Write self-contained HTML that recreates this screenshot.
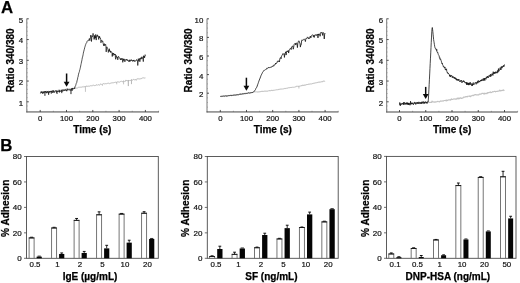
<!DOCTYPE html>
<html><head><meta charset="utf-8"><title>Figure</title>
<style>html,body{margin:0;padding:0;background:#fff;}body{width:520px;height:283px;overflow:hidden;}svg{display:block;font-family:"Liberation Sans", sans-serif;will-change:transform;}text{font-family:"Liberation Sans", sans-serif;}</style>
</head><body>
<svg width="520" height="283" viewBox="0 0 520 283">
<rect x="0" y="0" width="520" height="283" fill="#fff"/>
<text x="1" y="13.4" font-size="16.8" font-weight="bold" text-anchor="start" fill="#000" stroke="#000" stroke-width="0.25">A</text>
<text x="0.2" y="151.2" font-size="16.8" font-weight="bold" text-anchor="start" fill="#000" stroke="#000" stroke-width="0.25">B</text>
<line x1="26.8" y1="18.6" x2="26.8" y2="112.4" stroke="#6a6a6a" stroke-width="0.9"/>
<line x1="26.35" y1="111.95" x2="159" y2="111.95" stroke="#3c3c3c" stroke-width="0.95"/>
<line x1="26.8" y1="18.8" x2="28.8" y2="18.8" stroke="#2a2a2a" stroke-width="0.8"/>
<text x="23.2" y="22.7" font-size="7.9" text-anchor="end" fill="#111" stroke="#111" stroke-width="0.2">5</text>
<line x1="26.8" y1="39.55" x2="28.8" y2="39.55" stroke="#2a2a2a" stroke-width="0.8"/>
<text x="23.2" y="43.45" font-size="7.9" text-anchor="end" fill="#111" stroke="#111" stroke-width="0.2">4</text>
<line x1="26.8" y1="60.3" x2="28.8" y2="60.3" stroke="#2a2a2a" stroke-width="0.8"/>
<text x="23.2" y="64.2" font-size="7.9" text-anchor="end" fill="#111" stroke="#111" stroke-width="0.2">3</text>
<line x1="26.8" y1="81.05" x2="28.8" y2="81.05" stroke="#2a2a2a" stroke-width="0.8"/>
<text x="23.2" y="84.95" font-size="7.9" text-anchor="end" fill="#111" stroke="#111" stroke-width="0.2">2</text>
<line x1="26.8" y1="101.8" x2="28.8" y2="101.8" stroke="#2a2a2a" stroke-width="0.8"/>
<text x="23.2" y="105.7" font-size="7.9" text-anchor="end" fill="#111" stroke="#111" stroke-width="0.2">1</text>
<line x1="26.8" y1="22.95" x2="27.8" y2="22.95" stroke="#777" stroke-width="0.45"/>
<line x1="26.8" y1="27.1" x2="27.8" y2="27.1" stroke="#777" stroke-width="0.45"/>
<line x1="26.8" y1="31.25" x2="27.8" y2="31.25" stroke="#777" stroke-width="0.45"/>
<line x1="26.8" y1="35.4" x2="27.8" y2="35.4" stroke="#777" stroke-width="0.45"/>
<line x1="26.8" y1="43.7" x2="27.8" y2="43.7" stroke="#777" stroke-width="0.45"/>
<line x1="26.8" y1="47.85" x2="27.8" y2="47.85" stroke="#777" stroke-width="0.45"/>
<line x1="26.8" y1="52" x2="27.8" y2="52" stroke="#777" stroke-width="0.45"/>
<line x1="26.8" y1="56.15" x2="27.8" y2="56.15" stroke="#777" stroke-width="0.45"/>
<line x1="26.8" y1="64.45" x2="27.8" y2="64.45" stroke="#777" stroke-width="0.45"/>
<line x1="26.8" y1="68.6" x2="27.8" y2="68.6" stroke="#777" stroke-width="0.45"/>
<line x1="26.8" y1="72.75" x2="27.8" y2="72.75" stroke="#777" stroke-width="0.45"/>
<line x1="26.8" y1="76.9" x2="27.8" y2="76.9" stroke="#777" stroke-width="0.45"/>
<line x1="26.8" y1="85.2" x2="27.8" y2="85.2" stroke="#777" stroke-width="0.45"/>
<line x1="26.8" y1="89.35" x2="27.8" y2="89.35" stroke="#777" stroke-width="0.45"/>
<line x1="26.8" y1="93.5" x2="27.8" y2="93.5" stroke="#777" stroke-width="0.45"/>
<line x1="26.8" y1="97.65" x2="27.8" y2="97.65" stroke="#777" stroke-width="0.45"/>
<line x1="26.8" y1="105.95" x2="27.8" y2="105.95" stroke="#777" stroke-width="0.45"/>
<line x1="26.8" y1="110.1" x2="27.8" y2="110.1" stroke="#777" stroke-width="0.45"/>
<line x1="40.2" y1="111.95" x2="40.2" y2="109.95" stroke="#2a2a2a" stroke-width="0.8"/>
<text x="40.2" y="120.85" font-size="7.8" text-anchor="middle" fill="#111" stroke="#111" stroke-width="0.2">0</text>
<line x1="66.5" y1="111.95" x2="66.5" y2="109.95" stroke="#2a2a2a" stroke-width="0.8"/>
<text x="66.5" y="120.85" font-size="7.8" text-anchor="middle" fill="#111" stroke="#111" stroke-width="0.2">100</text>
<line x1="92.8" y1="111.95" x2="92.8" y2="109.95" stroke="#2a2a2a" stroke-width="0.8"/>
<text x="92.8" y="120.85" font-size="7.8" text-anchor="middle" fill="#111" stroke="#111" stroke-width="0.2">200</text>
<line x1="119.1" y1="111.95" x2="119.1" y2="109.95" stroke="#2a2a2a" stroke-width="0.8"/>
<text x="119.1" y="120.85" font-size="7.8" text-anchor="middle" fill="#111" stroke="#111" stroke-width="0.2">300</text>
<line x1="145.4" y1="111.95" x2="145.4" y2="109.95" stroke="#2a2a2a" stroke-width="0.8"/>
<text x="145.4" y="120.85" font-size="7.8" text-anchor="middle" fill="#111" stroke="#111" stroke-width="0.2">400</text>
<line x1="53.35" y1="111.95" x2="53.35" y2="110.75" stroke="#666" stroke-width="0.55"/>
<line x1="79.65" y1="111.95" x2="79.65" y2="110.75" stroke="#666" stroke-width="0.55"/>
<line x1="105.95" y1="111.95" x2="105.95" y2="110.75" stroke="#666" stroke-width="0.55"/>
<line x1="132.25" y1="111.95" x2="132.25" y2="110.75" stroke="#666" stroke-width="0.55"/>
<line x1="158.55" y1="111.95" x2="158.55" y2="110.75" stroke="#666" stroke-width="0.55"/>
<text x="13.9" y="60.4" font-size="10" font-weight="bold" text-anchor="middle" fill="#000" transform="rotate(-90 13.9 60.4)" stroke="#000" stroke-width="0.25">Ratio 340/380</text>
<text x="92.3" y="132.9" font-size="10" font-weight="bold" text-anchor="middle" fill="#000" stroke="#000" stroke-width="0.25">Time (s)</text>
<path d="M40.2 92.77 L40.73 92.31 L41.25 92.09 L41.78 92.4 L42.3 92.55 L42.83 92.17 L43.36 91.97 L43.88 91.76 L44.41 92.27 L44.93 92.23 L45.46 91.67 L45.99 91.67 L46.51 91.35 L47.04 91.42 L47.56 91.63 L48.09 91.62 L48.62 90.85 L49.14 91.5 L49.67 91.56 L50.19 91.59 L50.72 91.22 L51.25 91.15 L51.77 91.21 L52.3 91.08 L52.82 90.94 L53.35 90.77 L53.88 90.61 L54.4 90.77 L54.93 91.21 L55.45 90.53 L55.98 90.99 L56.51 90.62 L57.03 90.88 L57.56 90.45 L58.08 90.59 L58.61 90.28 L59.14 89.44 L59.66 90.22 L60.19 89.93 L60.71 90.41 L61.24 90.08 L61.77 89.78 L62.29 89.91 L62.82 89.73 L63.34 89.73 L63.87 89.94 L64.4 89.48 L64.92 89.76 L65.45 89.02 L65.97 89.54 L66.5 89.18 L67.03 89.28 L67.55 88.97 L68.08 89.29 L68.6 88.82 L69.13 89.03 L69.66 88.62 L70.18 88.7 L70.71 88.75 L71.23 88.91 L71.76 88.45 L72.29 88.45 L72.81 88.09 L73.34 88.52 L73.86 88.21 L74.39 88.15 L74.92 88.13 L75.44 88.07 L75.97 88.01 L76.49 88.13 L77.02 88.15 L77.55 87.92 L78.07 87.6 L78.6 87.3 L79.12 87.35 L79.65 87.26 L80.18 87.25 L80.7 87.19 L81.23 87.25 L81.75 87.02 L82.28 86.7 L82.81 87.14 L83.33 87.16 L83.86 86.42 L84.38 86.77 L84.91 86.51 L85.44 86.46 L85.96 86.88 L86.49 85.92 L87.01 86.01 L87.54 86.33 L88.07 86.11 L88.59 86.19 L89.12 86.36 L89.64 86.1 L90.17 85.9 L90.7 85.64 L91.22 85.66 L91.75 85.75 L92.27 85.35 L92.8 85.8 L93.33 85.34 L93.85 85.19 L94.38 85.46 L94.9 85.76 L95.43 85.47 L95.96 85.11 L96.48 84.96 L97.01 84.64 L97.53 85.2 L98.06 84.87 L98.59 84.64 L99.11 84.77 L99.64 85.24 L100.16 84.38 L100.69 83.93 L101.22 84.18 L101.74 84.59 L102.27 84.39 L102.79 84.16 L103.32 83.52 L103.85 83.91 L104.37 83.96 L104.9 83.53 L105.42 83.86 L105.95 83.31 L106.48 83.87 L107 83.74 L107.53 83.37 L108.05 83.12 L108.58 83.24 L109.11 83.25 L109.63 83.7 L110.16 83.35 L110.68 83.25 L111.21 83.16 L111.74 82.81 L112.26 82.96 L112.79 82.6 L113.31 82.7 L113.84 82.73 L114.37 82.54 L114.89 82.39 L115.42 82.21 L115.94 82.46 L116.47 82.33 L117 82.53 L117.52 81.71 L118.05 81.67 L118.57 82 L119.1 82 L119.63 82.11 L120.15 81.68 L120.68 81.59 L121.2 81.02 L121.73 81.42 L122.26 81.6 L122.78 81.93 L123.31 80.89 L123.83 81.12 L124.36 81.49 L124.89 80.96 L125.41 81.32 L125.94 79.98 L126.46 80.48 L126.99 80.54 L127.52 80.64 L128.04 81.05 L128.57 80.47 L129.09 80.74 L129.62 80.12 L130.15 80.72 L130.67 80.33 L131.2 79.72 L131.72 79.53 L132.25 80.15 L132.78 80.16 L133.3 79.47 L133.83 79.4 L134.35 79.77 L134.88 79.62 L135.41 79.53 L135.93 79.57 L136.46 79.36 L136.98 78.8 L137.51 78.86 L138.04 78.43 L138.56 78.89 L139.09 78.81 L139.61 78.94 L140.14 78.65 L140.67 78.86 L141.19 78.89 L141.72 78.19 L142.24 77.93 L142.77 77.99 L143.3 77.79 L143.82 77.98 L144.35 78.13 L144.87 77.85 L145.4 77.89" fill="none" stroke="#b9b9b9" stroke-width="1" stroke-linejoin="round"/>
<line x1="85.44" y1="86.68" x2="85.44" y2="91.87" stroke="#aaa" stroke-width="0.7"/>
<line x1="102.53" y1="84.25" x2="102.53" y2="85.91" stroke="#bbb" stroke-width="0.7"/>
<line x1="116.73" y1="82.23" x2="116.73" y2="84.3" stroke="#aaa" stroke-width="0.7"/>
<line x1="123.57" y1="81.21" x2="123.57" y2="84.32" stroke="#aaa" stroke-width="0.7"/>
<line x1="128.31" y1="80.48" x2="128.31" y2="86.08" stroke="#888" stroke-width="0.7"/>
<line x1="131.46" y1="79.98" x2="131.46" y2="84.13" stroke="#999" stroke-width="0.7"/>
<line x1="136.19" y1="79.24" x2="136.19" y2="80.9" stroke="#bbb" stroke-width="0.7"/>
<path d="M40.2 93.2 L40.46 93.37 L40.73 92.76 L40.99 91.55 L41.25 91.66 L41.52 92.91 L41.78 92.81 L42.04 91.54 L42.3 91.86 L42.57 93.61 L42.83 92.77 L43.09 92.55 L43.36 91.62 L43.62 93.27 L43.88 92.28 L44.15 91.82 L44.41 92.03 L44.67 91.53 L44.93 92.61 L45.2 91.02 L45.46 91.95 L45.72 92 L45.99 92.26 L46.25 92.81 L46.51 91.68 L46.78 93.23 L47.04 92.37 L47.3 91.11 L47.56 91.67 L47.83 92.54 L48.09 92.82 L48.35 91.65 L48.62 94.71 L48.88 91.66 L49.14 91.89 L49.41 91.22 L49.67 92.55 L49.93 92.43 L50.19 91.5 L50.46 91.85 L50.72 91.21 L50.98 91.16 L51.25 92.21 L51.51 91.05 L51.77 90.94 L52.04 91.81 L52.3 91.75 L52.56 92.66 L52.82 91.2 L53.09 90.18 L53.35 92.53 L53.61 91.69 L53.88 91.06 L54.14 91.84 L54.4 92.38 L54.67 92.54 L54.93 91.53 L55.19 91.03 L55.45 90.77 L55.72 90.8 L55.98 90.61 L56.24 91.75 L56.51 92.56 L56.77 90.76 L57.03 90.89 L57.3 91.21 L57.56 91.95 L57.82 91.54 L58.08 91.21 L58.35 90.64 L58.61 91.21 L58.87 91.74 L59.14 91.03 L59.4 92.4 L59.66 90.12 L59.93 90.97 L60.19 91.47 L60.45 91.05 L60.71 91.37 L60.98 90.88 L61.24 90.78 L61.5 89.97 L61.77 90.1 L62.03 91.84 L62.29 90.27 L62.56 89.75 L62.82 90.5 L63.08 90.63 L63.34 90.68 L63.61 90.95 L63.87 89.61 L64.13 89.76 L64.4 90.35 L64.66 89.91 L64.92 90.75 L65.19 89.81 L65.45 89.98 L65.71 89.36 L65.97 89.66 L66.24 90.83 L66.5 90.18 L66.76 91.21 L67.03 90.61 L67.29 88.73 L67.55 89.73 L67.81 90.17 L68.08 89.94 L68.34 89.61 L68.6 89.78 L68.87 90.14 L69.13 89.38 L69.39 89.71 L69.66 89.43 L69.92 89.75 L70.18 90.61 L70.45 89.64 L70.71 89.46 L70.97 89.45 L71.23 89.84 L71.5 89.63 L71.76 88.42 L72.02 90.9 L72.29 88.04 L72.55 88.75 L72.81 89.42 L73.08 88.59 L73.34 88.99 L73.6 88.82 L73.86 88.39 L74.13 87.92 L74.39 87.83 L74.65 88.77 L74.92 87.16 L75.18 86.05 L75.44 85.83 L75.71 85.46 L75.97 84.37 L76.23 83.46 L76.49 83.11 L76.76 82.4 L77.02 80.86 L77.28 79.91 L77.55 79.05 L77.81 77.38 L78.07 76.95 L78.34 75.03 L78.6 74.17 L78.86 72.81 L79.12 72.48 L79.39 71.64 L79.65 70.19 L79.91 69.48 L80.18 68.35 L80.44 67.22 L80.7 65.98 L80.97 64.48 L81.23 63.44 L81.49 61.98 L81.75 60.98 L82.02 59.53 L82.28 57.91 L82.54 57.03 L82.81 56.1 L83.07 54.79 L83.33 53.22 L83.59 51.94 L83.86 51.05 L84.12 49.9 L84.38 49.08 L84.65 47.79 L84.91 46.95 L85.17 46.16 L85.44 45.16 L85.7 44.46 L85.96 43.7 L86.22 43.08 L86.49 42.95 L86.75 42.61 L87.01 41.29 L87.28 41.18 L87.54 40.82 L87.8 40.83 L88.07 40.5 L88.33 40.71 L88.59 39.95 L88.86 39.57 L89.12 38.97 L89.38 38.47 L89.64 40.33 L89.91 40.77 L90.17 39.3 L90.43 37.89 L90.7 35.15 L90.96 36.93 L91.22 36.9 L91.48 41.51 L91.75 38.16 L92.01 35.53 L92.27 36.83 L92.54 36.37 L92.8 35.64 L93.06 33.36 L93.33 35.24 L93.59 35.4 L93.85 35.7 L94.12 39.47 L94.38 35.42 L94.64 38.4 L94.9 36.57 L95.17 36.11 L95.43 38.17 L95.69 34.45 L95.96 36.38 L96.22 40.09 L96.48 36.22 L96.75 36.16 L97.01 35.99 L97.27 34.81 L97.53 36.41 L97.8 35.6 L98.06 35.83 L98.32 36.8 L98.59 39.31 L98.85 39.5 L99.11 36.08 L99.38 37.82 L99.64 36.65 L99.9 37.66 L100.16 37.89 L100.43 37.94 L100.69 39.56 L100.95 42.79 L101.22 41.6 L101.48 40.4 L101.74 39.96 L102 40.46 L102.27 41.53 L102.53 41.99 L102.79 41.35 L103.06 43.34 L103.32 43.64 L103.58 45.76 L103.85 44.01 L104.11 43.59 L104.37 43.76 L104.64 45.84 L104.9 45.3 L105.16 44.16 L105.42 44.94 L105.69 44.66 L105.95 46.76 L106.21 51.9 L106.48 48.21 L106.74 46.9 L107 46.78 L107.27 47.48 L107.53 48.49 L107.79 48.5 L108.05 49.94 L108.32 52.44 L108.58 51.23 L108.84 49.95 L109.11 50.69 L109.37 48.72 L109.63 51.21 L109.89 50.76 L110.16 51.83 L110.42 50.95 L110.68 52.59 L110.95 51.89 L111.21 51.49 L111.47 51.89 L111.74 52.39 L112 53.21 L112.26 56.52 L112.53 52.88 L112.79 53.56 L113.05 55.55 L113.31 54.2 L113.58 53.07 L113.84 54.01 L114.1 53.98 L114.37 54.88 L114.63 54.15 L114.89 55.09 L115.16 54.03 L115.42 57.56 L115.68 59.3 L115.94 55.31 L116.21 55.52 L116.47 56.75 L116.73 56.39 L117 58.2 L117.26 57.11 L117.52 57.35 L117.78 59.86 L118.05 57.94 L118.31 57.28 L118.57 56.31 L118.84 57.1 L119.1 57.67 L119.36 57.78 L119.63 57.95 L119.89 57.95 L120.15 58.89 L120.42 59.88 L120.68 58.59 L120.94 59.4 L121.2 59.16 L121.47 59.74 L121.73 58.26 L121.99 58.76 L122.26 58.39 L122.52 59.3 L122.78 62.35 L123.05 59.13 L123.31 59.84 L123.57 58.79 L123.83 60.78 L124.1 59.2 L124.36 59.08 L124.62 59.6 L124.89 61.83 L125.15 60.47 L125.41 60.25 L125.67 59.96 L125.94 59.39 L126.2 60.19 L126.46 59.51 L126.73 59.73 L126.99 59.22 L127.25 60.82 L127.52 60.41 L127.78 59.88 L128.04 59.99 L128.31 60.25 L128.57 60.82 L128.83 61.65 L129.09 60.67 L129.36 61.52 L129.62 59.8 L129.88 60.56 L130.15 60.22 L130.41 61.3 L130.67 60.44 L130.94 60.34 L131.2 59.5 L131.46 60.53 L131.72 59.99 L131.99 60.42 L132.25 60.09 L132.51 60.51 L132.78 61.45 L133.04 61.49 L133.3 60.02 L133.56 60.93 L133.83 60.05 L134.09 59.93 L134.35 60.78 L134.62 61.53 L134.88 60.8 L135.14 60.79 L135.41 61.24 L135.67 60.87 L135.93 60.85 L136.19 60 L136.46 59.66 L136.72 59.51 L136.98 60.68 L137.25 60.39 L137.51 61.06 L137.77 65.47 L138.04 61.41 L138.3 58.75 L138.56 59.54 L138.82 61.33 L139.09 59.34 L139.35 58.41 L139.61 60.14 L139.88 61.69 L140.14 60.21 L140.4 58.06 L140.67 58.39 L140.93 59.2 L141.19 57.3 L141.45 58.62 L141.72 58.58 L141.98 56.72 L142.24 57.21 L142.51 58.4 L142.77 58.02 L143.03 58.58 L143.3 61.62 L143.56 55.72 L143.82 56.92 L144.09 57.96 L144.35 56.08 L144.61 57.59 L144.87 56.56 L145.14 54.7 L145.4 55.59" fill="none" stroke="#111" stroke-width="0.72" stroke-linejoin="round"/>
<line x1="44.93" y1="92.13" x2="44.93" y2="95.87" stroke="#181818" stroke-width="0.95"/>
<line x1="51.25" y1="91.64" x2="51.25" y2="93.71" stroke="#181818" stroke-width="0.95"/>
<line x1="57.03" y1="91.12" x2="57.03" y2="94.02" stroke="#181818" stroke-width="0.95"/>
<line x1="61.77" y1="90.64" x2="61.77" y2="93.13" stroke="#181818" stroke-width="0.95"/>
<line x1="70.97" y1="89.56" x2="70.97" y2="94.12" stroke="#181818" stroke-width="0.95"/>
<line x1="66.6" y1="73.5" x2="66.6" y2="83.8" stroke="#0a0a0a" stroke-width="1.5"/>
<path d="M63.7 81.8 L69.5 81.8 L66.6 86.8 Z" fill="#0a0a0a"/>
<line x1="207" y1="18.6" x2="207" y2="112.4" stroke="#6a6a6a" stroke-width="0.9"/>
<line x1="206.55" y1="111.95" x2="338.5" y2="111.95" stroke="#3c3c3c" stroke-width="0.95"/>
<line x1="207" y1="18.8" x2="209" y2="18.8" stroke="#2a2a2a" stroke-width="0.8"/>
<text x="203.4" y="22.7" font-size="7.9" text-anchor="end" fill="#111" stroke="#111" stroke-width="0.2">10</text>
<line x1="207" y1="37.4" x2="209" y2="37.4" stroke="#2a2a2a" stroke-width="0.8"/>
<text x="203.4" y="41.3" font-size="7.9" text-anchor="end" fill="#111" stroke="#111" stroke-width="0.2">8</text>
<line x1="207" y1="56" x2="209" y2="56" stroke="#2a2a2a" stroke-width="0.8"/>
<text x="203.4" y="59.9" font-size="7.9" text-anchor="end" fill="#111" stroke="#111" stroke-width="0.2">6</text>
<line x1="207" y1="74.6" x2="209" y2="74.6" stroke="#2a2a2a" stroke-width="0.8"/>
<text x="203.4" y="78.5" font-size="7.9" text-anchor="end" fill="#111" stroke="#111" stroke-width="0.2">4</text>
<line x1="207" y1="93.2" x2="209" y2="93.2" stroke="#2a2a2a" stroke-width="0.8"/>
<text x="203.4" y="97.1" font-size="7.9" text-anchor="end" fill="#111" stroke="#111" stroke-width="0.2">2</text>
<line x1="207" y1="23.45" x2="208" y2="23.45" stroke="#777" stroke-width="0.45"/>
<line x1="207" y1="28.1" x2="208" y2="28.1" stroke="#777" stroke-width="0.45"/>
<line x1="207" y1="32.75" x2="208" y2="32.75" stroke="#777" stroke-width="0.45"/>
<line x1="207" y1="42.05" x2="208" y2="42.05" stroke="#777" stroke-width="0.45"/>
<line x1="207" y1="46.7" x2="208" y2="46.7" stroke="#777" stroke-width="0.45"/>
<line x1="207" y1="51.35" x2="208" y2="51.35" stroke="#777" stroke-width="0.45"/>
<line x1="207" y1="60.65" x2="208" y2="60.65" stroke="#777" stroke-width="0.45"/>
<line x1="207" y1="65.3" x2="208" y2="65.3" stroke="#777" stroke-width="0.45"/>
<line x1="207" y1="69.95" x2="208" y2="69.95" stroke="#777" stroke-width="0.45"/>
<line x1="207" y1="79.25" x2="208" y2="79.25" stroke="#777" stroke-width="0.45"/>
<line x1="207" y1="83.9" x2="208" y2="83.9" stroke="#777" stroke-width="0.45"/>
<line x1="207" y1="88.55" x2="208" y2="88.55" stroke="#777" stroke-width="0.45"/>
<line x1="207" y1="97.85" x2="208" y2="97.85" stroke="#777" stroke-width="0.45"/>
<line x1="207" y1="102.5" x2="208" y2="102.5" stroke="#777" stroke-width="0.45"/>
<line x1="207" y1="107.15" x2="208" y2="107.15" stroke="#777" stroke-width="0.45"/>
<line x1="220.3" y1="111.95" x2="220.3" y2="109.95" stroke="#2a2a2a" stroke-width="0.8"/>
<text x="220.3" y="120.85" font-size="7.8" text-anchor="middle" fill="#111" stroke="#111" stroke-width="0.2">0</text>
<line x1="246.5" y1="111.95" x2="246.5" y2="109.95" stroke="#2a2a2a" stroke-width="0.8"/>
<text x="246.5" y="120.85" font-size="7.8" text-anchor="middle" fill="#111" stroke="#111" stroke-width="0.2">100</text>
<line x1="272.7" y1="111.95" x2="272.7" y2="109.95" stroke="#2a2a2a" stroke-width="0.8"/>
<text x="272.7" y="120.85" font-size="7.8" text-anchor="middle" fill="#111" stroke="#111" stroke-width="0.2">200</text>
<line x1="298.9" y1="111.95" x2="298.9" y2="109.95" stroke="#2a2a2a" stroke-width="0.8"/>
<text x="298.9" y="120.85" font-size="7.8" text-anchor="middle" fill="#111" stroke="#111" stroke-width="0.2">300</text>
<line x1="325.1" y1="111.95" x2="325.1" y2="109.95" stroke="#2a2a2a" stroke-width="0.8"/>
<text x="325.1" y="120.85" font-size="7.8" text-anchor="middle" fill="#111" stroke="#111" stroke-width="0.2">400</text>
<line x1="233.4" y1="111.95" x2="233.4" y2="110.75" stroke="#666" stroke-width="0.55"/>
<line x1="259.6" y1="111.95" x2="259.6" y2="110.75" stroke="#666" stroke-width="0.55"/>
<line x1="285.8" y1="111.95" x2="285.8" y2="110.75" stroke="#666" stroke-width="0.55"/>
<line x1="312" y1="111.95" x2="312" y2="110.75" stroke="#666" stroke-width="0.55"/>
<line x1="338.2" y1="111.95" x2="338.2" y2="110.75" stroke="#666" stroke-width="0.55"/>
<text x="191.7" y="60.4" font-size="10" font-weight="bold" text-anchor="middle" fill="#000" transform="rotate(-90 191.7 60.4)" stroke="#000" stroke-width="0.25">Ratio 340/380</text>
<text x="272.8" y="132.9" font-size="10" font-weight="bold" text-anchor="middle" fill="#000" stroke="#000" stroke-width="0.25">Time (s)</text>
<path d="M220.3 96.15 L220.82 96.55 L221.35 96.29 L221.87 96.31 L222.4 96.33 L222.92 96.23 L223.44 96.16 L223.97 96.05 L224.49 95.92 L225.02 95.77 L225.54 95.82 L226.06 95.64 L226.59 95.68 L227.11 95.67 L227.64 95.65 L228.16 95.7 L228.68 95.72 L229.21 95.46 L229.73 95.41 L230.26 95.28 L230.78 95.22 L231.3 95.39 L231.83 95.25 L232.35 95.25 L232.88 94.89 L233.4 94.99 L233.92 94.9 L234.45 94.98 L234.97 94.97 L235.5 94.82 L236.02 94.69 L236.54 94.55 L237.07 94.76 L237.59 94.45 L238.12 94.55 L238.64 94.44 L239.16 94.35 L239.69 94.3 L240.21 94.12 L240.74 94 L241.26 94.01 L241.78 94.07 L242.31 93.87 L242.83 93.81 L243.36 93.68 L243.88 93.7 L244.4 93.89 L244.93 93.7 L245.45 93.59 L245.98 93.34 L246.5 93.41 L247.02 93.19 L247.55 93.18 L248.07 93.28 L248.6 93 L249.12 92.81 L249.64 92.71 L250.17 92.85 L250.69 92.48 L251.22 92.52 L251.74 92.64 L252.26 92.36 L252.79 92.49 L253.31 92.34 L253.84 91.91 L254.36 91.72 L254.88 91.86 L255.41 91.9 L255.93 91.65 L256.46 91.82 L256.98 91.96 L257.5 92.12 L258.03 91.62 L258.55 92.01 L259.08 92.05 L259.6 91.71 L260.12 91.57 L260.65 91.66 L261.17 91.36 L261.7 91.48 L262.22 91.39 L262.74 91.32 L263.27 91.42 L263.79 91.27 L264.32 90.94 L264.84 91.34 L265.36 91.14 L265.89 91.05 L266.41 91.15 L266.94 91.03 L267.46 91.2 L267.98 90.97 L268.51 90.85 L269.03 90.64 L269.56 90.6 L270.08 90.74 L270.6 90.75 L271.13 90.28 L271.65 90.34 L272.18 90.66 L272.7 90.37 L273.22 90.38 L273.75 90.27 L274.27 90.35 L274.8 90.1 L275.32 90.04 L275.84 89.93 L276.37 89.68 L276.89 89.72 L277.42 89.84 L277.94 89.84 L278.46 89.6 L278.99 89.29 L279.51 89.24 L280.04 89.37 L280.56 89.05 L281.08 89.07 L281.61 89.14 L282.13 88.92 L282.66 88.91 L283.18 88.97 L283.7 88.8 L284.23 88.63 L284.75 88.39 L285.28 88.63 L285.8 88.37 L286.32 88.32 L286.85 88.25 L287.37 88.32 L287.9 87.89 L288.42 87.8 L288.94 87.67 L289.47 87.75 L289.99 87.52 L290.52 87.56 L291.04 87.41 L291.56 87.51 L292.09 87.34 L292.61 87.33 L293.14 87.34 L293.66 87.17 L294.18 87.17 L294.71 87.08 L295.23 86.89 L295.76 86.83 L296.28 86.36 L296.8 86.31 L297.33 86.31 L297.85 86.26 L298.38 86.4 L298.9 86.14 L299.42 86.29 L299.95 86.08 L300.47 85.96 L301 85.85 L301.52 85.58 L302.04 85.71 L302.57 85.16 L303.09 85.48 L303.62 85.18 L304.14 85.43 L304.66 84.98 L305.19 85.18 L305.71 84.88 L306.24 84.8 L306.76 84.59 L307.28 84.51 L307.81 84.44 L308.33 84.42 L308.86 84.02 L309.38 84.26 L309.9 84.09 L310.43 84.05 L310.95 83.86 L311.48 83.92 L312 83.74 L312.52 83.5 L313.05 83.55 L313.57 83.3 L314.1 83.35 L314.62 82.96 L315.14 83.08 L315.67 82.71 L316.19 82.78 L316.72 82.77 L317.24 82.51 L317.76 82.38 L318.29 82.22 L318.81 82.14 L319.34 82.11 L319.86 82.29 L320.38 81.9 L320.91 81.94 L321.43 81.76 L321.96 81.54 L322.48 81.72 L323 81.33 L323.53 81.08 L324.05 81.24 L324.58 81.26 L325.1 80.92" fill="none" stroke="#c8c8c8" stroke-width="1.05" stroke-linejoin="round"/>
<line x1="298.9" y1="86.18" x2="298.9" y2="88.5" stroke="#aaa" stroke-width="0.7"/>
<path d="M220.3 96.43 L220.72 96.43 L221.14 96.53 L221.56 96.31 L221.98 96.56 L222.4 96.3 L222.82 96.17 L223.23 96.16 L223.65 96.02 L224.07 96.4 L224.49 96.15 L224.91 96.19 L225.33 96.21 L225.75 95.69 L226.17 96.21 L226.59 96.09 L227.01 95.71 L227.43 96.02 L227.85 95.67 L228.26 95.73 L228.68 95.59 L229.1 95.92 L229.52 95.54 L229.94 95.61 L230.36 95.45 L230.78 95.41 L231.2 95.26 L231.62 95.63 L232.04 95.44 L232.46 95.01 L232.88 95.5 L233.3 95.01 L233.71 95.11 L234.13 95.12 L234.55 95.09 L234.97 95.07 L235.39 95.22 L235.81 94.85 L236.23 94.73 L236.65 95.01 L237.07 94.79 L237.49 94.8 L237.91 94.65 L238.33 94.77 L238.74 94.7 L239.16 94.44 L239.58 94.3 L240 94.39 L240.42 94.14 L240.84 94.34 L241.26 93.83 L241.68 94.38 L242.1 94.17 L242.52 93.79 L242.94 93.99 L243.36 93.79 L243.78 93.81 L244.19 93.51 L244.61 93.55 L245.03 93.72 L245.45 93.67 L245.87 93.28 L246.29 93.43 L246.71 93.38 L247.13 93.52 L247.55 93.19 L247.97 93.09 L248.39 92.88 L248.81 92.76 L249.22 92.98 L249.64 93.11 L250.06 92.91 L250.48 92.84 L250.9 92.85 L251.32 92.71 L251.74 92.5 L252.16 92.48 L252.58 92.5 L253 92.29 L253.42 91.87 L253.84 91.71 L254.26 91.09 L254.67 90.84 L255.09 90.08 L255.51 89.54 L255.93 88.37 L256.35 87.87 L256.77 87.13 L257.19 86.09 L257.61 84.76 L258.03 83.7 L258.45 82.44 L258.87 81.18 L259.29 80.12 L259.7 79.02 L260.12 78.05 L260.54 76.88 L260.96 75.7 L261.38 74.84 L261.8 73.96 L262.22 73.16 L262.64 72.3 L263.06 71.81 L263.48 71.15 L263.9 70.43 L264.32 70.36 L264.74 69.93 L265.15 69.67 L265.57 69.71 L265.99 69.26 L266.41 69.19 L266.83 68.23 L267.25 68.52 L267.67 68 L268.09 67.9 L268.51 67.27 L268.93 68.09 L269.35 67.59 L269.77 67.4 L270.18 67 L270.6 67.47 L271.02 66.81 L271.44 67.07 L271.86 67 L272.28 66.31 L272.7 66.43 L273.12 65.74 L273.54 66.26 L273.96 64.76 L274.38 64.98 L274.8 65.09 L275.22 64.34 L275.63 63.01 L276.05 63.79 L276.47 63.23 L276.89 63.03 L277.31 61.61 L277.73 60.87 L278.15 61.65 L278.57 60.91 L278.99 60.91 L279.41 61.96 L279.83 59.01 L280.25 57.71 L280.66 57.6 L281.08 58.74 L281.5 56.1 L281.92 55.49 L282.34 54.92 L282.76 53.66 L283.18 53.89 L283.6 54.17 L284.02 53.62 L284.44 57.42 L284.86 53.55 L285.28 53.18 L285.7 51.81 L286.11 55.05 L286.53 51.4 L286.95 50.92 L287.37 51.31 L287.79 51.98 L288.21 50.44 L288.63 53.05 L289.05 50.84 L289.47 49.49 L289.89 48.97 L290.31 48.34 L290.73 48.32 L291.14 49.63 L291.56 47.12 L291.98 46.76 L292.4 45.98 L292.82 45.98 L293.24 49.19 L293.66 47.25 L294.08 44.52 L294.5 43.85 L294.92 43.93 L295.34 43.28 L295.76 45.04 L296.18 42.92 L296.59 43.01 L297.01 43.77 L297.43 47.62 L297.85 43.07 L298.27 41.72 L298.69 40.86 L299.11 40.97 L299.53 42.81 L299.95 42.84 L300.37 47.1 L300.79 44.76 L301.21 44.8 L301.62 40.54 L302.04 39.83 L302.46 40.29 L302.88 40.44 L303.3 39.63 L303.72 39.19 L304.14 39.14 L304.56 39.22 L304.98 39.94 L305.4 41.55 L305.82 39.04 L306.24 38.08 L306.66 38.5 L307.07 37.95 L307.49 36.9 L307.91 37.37 L308.33 38.77 L308.75 37.92 L309.17 37.92 L309.59 38.53 L310.01 36.76 L310.43 36.01 L310.85 37.89 L311.27 36.29 L311.69 35.48 L312.1 35.14 L312.52 34.7 L312.94 35.24 L313.36 36.73 L313.78 35.3 L314.2 37.46 L314.62 35.22 L315.04 35.63 L315.46 35.26 L315.88 34.51 L316.3 35.56 L316.72 34.78 L317.14 34.51 L317.55 34.08 L317.97 37.91 L318.39 34.06 L318.81 35.04 L319.23 33.74 L319.65 34.57 L320.07 36.27 L320.49 34.64 L320.91 32.18 L321.33 32.65 L321.75 32.54 L322.17 32.48 L322.58 35.41 L323 32.58 L323.42 32.68 L323.84 33.39 L324.26 38.94 L324.68 34.09 L325.1 33.06" fill="none" stroke="#111" stroke-width="0.8" stroke-linejoin="round"/>
<line x1="246.4" y1="77.7" x2="246.4" y2="87.8" stroke="#0a0a0a" stroke-width="1.5"/>
<path d="M243.5 85.8 L249.3 85.8 L246.4 90.8 Z" fill="#0a0a0a"/>
<line x1="386.7" y1="18.6" x2="386.7" y2="112.45" stroke="#6a6a6a" stroke-width="0.9"/>
<line x1="386.25" y1="112" x2="517.7" y2="112" stroke="#3c3c3c" stroke-width="0.95"/>
<line x1="386.7" y1="18.8" x2="388.7" y2="18.8" stroke="#2a2a2a" stroke-width="0.8"/>
<text x="383.1" y="22.7" font-size="7.9" text-anchor="end" fill="#111" stroke="#111" stroke-width="0.2">6</text>
<line x1="386.7" y1="39.55" x2="388.7" y2="39.55" stroke="#2a2a2a" stroke-width="0.8"/>
<text x="383.1" y="43.45" font-size="7.9" text-anchor="end" fill="#111" stroke="#111" stroke-width="0.2">5</text>
<line x1="386.7" y1="60.3" x2="388.7" y2="60.3" stroke="#2a2a2a" stroke-width="0.8"/>
<text x="383.1" y="64.2" font-size="7.9" text-anchor="end" fill="#111" stroke="#111" stroke-width="0.2">4</text>
<line x1="386.7" y1="81.05" x2="388.7" y2="81.05" stroke="#2a2a2a" stroke-width="0.8"/>
<text x="383.1" y="84.95" font-size="7.9" text-anchor="end" fill="#111" stroke="#111" stroke-width="0.2">3</text>
<line x1="386.7" y1="101.8" x2="388.7" y2="101.8" stroke="#2a2a2a" stroke-width="0.8"/>
<text x="383.1" y="105.7" font-size="7.9" text-anchor="end" fill="#111" stroke="#111" stroke-width="0.2">2</text>
<line x1="386.7" y1="22.95" x2="387.7" y2="22.95" stroke="#777" stroke-width="0.45"/>
<line x1="386.7" y1="27.1" x2="387.7" y2="27.1" stroke="#777" stroke-width="0.45"/>
<line x1="386.7" y1="31.25" x2="387.7" y2="31.25" stroke="#777" stroke-width="0.45"/>
<line x1="386.7" y1="35.4" x2="387.7" y2="35.4" stroke="#777" stroke-width="0.45"/>
<line x1="386.7" y1="43.7" x2="387.7" y2="43.7" stroke="#777" stroke-width="0.45"/>
<line x1="386.7" y1="47.85" x2="387.7" y2="47.85" stroke="#777" stroke-width="0.45"/>
<line x1="386.7" y1="52" x2="387.7" y2="52" stroke="#777" stroke-width="0.45"/>
<line x1="386.7" y1="56.15" x2="387.7" y2="56.15" stroke="#777" stroke-width="0.45"/>
<line x1="386.7" y1="64.45" x2="387.7" y2="64.45" stroke="#777" stroke-width="0.45"/>
<line x1="386.7" y1="68.6" x2="387.7" y2="68.6" stroke="#777" stroke-width="0.45"/>
<line x1="386.7" y1="72.75" x2="387.7" y2="72.75" stroke="#777" stroke-width="0.45"/>
<line x1="386.7" y1="76.9" x2="387.7" y2="76.9" stroke="#777" stroke-width="0.45"/>
<line x1="386.7" y1="85.2" x2="387.7" y2="85.2" stroke="#777" stroke-width="0.45"/>
<line x1="386.7" y1="89.35" x2="387.7" y2="89.35" stroke="#777" stroke-width="0.45"/>
<line x1="386.7" y1="93.5" x2="387.7" y2="93.5" stroke="#777" stroke-width="0.45"/>
<line x1="386.7" y1="97.65" x2="387.7" y2="97.65" stroke="#777" stroke-width="0.45"/>
<line x1="386.7" y1="105.95" x2="387.7" y2="105.95" stroke="#777" stroke-width="0.45"/>
<line x1="386.7" y1="110.1" x2="387.7" y2="110.1" stroke="#777" stroke-width="0.45"/>
<line x1="399.5" y1="112" x2="399.5" y2="110" stroke="#2a2a2a" stroke-width="0.8"/>
<text x="399.5" y="120.9" font-size="7.8" text-anchor="middle" fill="#111" stroke="#111" stroke-width="0.2">0</text>
<line x1="425.75" y1="112" x2="425.75" y2="110" stroke="#2a2a2a" stroke-width="0.8"/>
<text x="425.75" y="120.9" font-size="7.8" text-anchor="middle" fill="#111" stroke="#111" stroke-width="0.2">100</text>
<line x1="452" y1="112" x2="452" y2="110" stroke="#2a2a2a" stroke-width="0.8"/>
<text x="452" y="120.9" font-size="7.8" text-anchor="middle" fill="#111" stroke="#111" stroke-width="0.2">200</text>
<line x1="478.25" y1="112" x2="478.25" y2="110" stroke="#2a2a2a" stroke-width="0.8"/>
<text x="478.25" y="120.9" font-size="7.8" text-anchor="middle" fill="#111" stroke="#111" stroke-width="0.2">300</text>
<line x1="504.5" y1="112" x2="504.5" y2="110" stroke="#2a2a2a" stroke-width="0.8"/>
<text x="504.5" y="120.9" font-size="7.8" text-anchor="middle" fill="#111" stroke="#111" stroke-width="0.2">400</text>
<line x1="412.62" y1="112" x2="412.62" y2="110.8" stroke="#666" stroke-width="0.55"/>
<line x1="438.88" y1="112" x2="438.88" y2="110.8" stroke="#666" stroke-width="0.55"/>
<line x1="465.12" y1="112" x2="465.12" y2="110.8" stroke="#666" stroke-width="0.55"/>
<line x1="491.38" y1="112" x2="491.38" y2="110.8" stroke="#666" stroke-width="0.55"/>
<line x1="517.62" y1="112" x2="517.62" y2="110.8" stroke="#666" stroke-width="0.55"/>
<text x="373.9" y="60.4" font-size="10" font-weight="bold" text-anchor="middle" fill="#000" transform="rotate(-90 373.9 60.4)" stroke="#000" stroke-width="0.25">Ratio 340/380</text>
<text x="452.2" y="132.9" font-size="10" font-weight="bold" text-anchor="middle" fill="#000" stroke="#000" stroke-width="0.25">Time (s)</text>
<path d="M399.5 103.93 L400.02 103.98 L400.55 104.27 L401.07 104.21 L401.6 103.6 L402.12 104.09 L402.65 103.95 L403.18 103.95 L403.7 103.85 L404.23 103.72 L404.75 103.84 L405.27 104.04 L405.8 103.7 L406.32 103.32 L406.85 103.63 L407.38 103.92 L407.9 102.77 L408.43 103.76 L408.95 103.46 L409.48 103.63 L410 103.27 L410.52 103.37 L411.05 103.78 L411.57 103.08 L412.1 103.25 L412.62 103.77 L413.15 103.66 L413.68 103.69 L414.2 102.99 L414.73 103.26 L415.25 103.25 L415.77 102.99 L416.3 102.83 L416.82 103.23 L417.35 103.14 L417.88 103.28 L418.4 103.25 L418.93 103.2 L419.45 103.25 L419.98 102.96 L420.5 102.76 L421.02 103.44 L421.55 102.85 L422.07 103.12 L422.6 103.05 L423.12 103.4 L423.65 103.58 L424.18 102.9 L424.7 103 L425.23 102.96 L425.75 102.81 L426.27 103.05 L426.8 102.55 L427.32 102.19 L427.85 102.24 L428.38 102.41 L428.9 102.49 L429.43 102.42 L429.95 102.45 L430.48 102.42 L431 102.43 L431.52 102.44 L432.05 100.99 L432.57 101.88 L433.1 101.88 L433.62 101.92 L434.15 102.17 L434.68 101.88 L435.2 102.16 L435.73 101.82 L436.25 102.04 L436.77 101.82 L437.3 101.63 L437.82 101.3 L438.35 101.56 L438.88 101.69 L439.4 102 L439.93 101.34 L440.45 100.93 L440.98 101.1 L441.5 101.14 L442.02 101.02 L442.55 100.9 L443.07 101.15 L443.6 100.85 L444.12 100.51 L444.65 100.53 L445.18 100.57 L445.7 100.27 L446.23 100.84 L446.75 99.94 L447.27 100.55 L447.8 100.4 L448.32 99.78 L448.85 99.95 L449.38 99.99 L449.9 99.6 L450.43 100.17 L450.95 99.45 L451.48 98.87 L452 99.56 L452.52 99.44 L453.05 99.43 L453.57 98.94 L454.1 98.82 L454.62 99.07 L455.15 99.32 L455.68 98.88 L456.2 98.87 L456.73 99.23 L457.25 98.1 L457.77 98.75 L458.3 98.06 L458.82 98.99 L459.35 98.12 L459.88 98.52 L460.4 97.83 L460.93 97.89 L461.45 98.53 L461.98 98.39 L462.5 97.96 L463.02 97.96 L463.55 97.13 L464.07 97.18 L464.6 97.13 L465.12 97.15 L465.65 96.6 L466.18 96.84 L466.7 96.48 L467.23 96.91 L467.75 96.21 L468.27 96.27 L468.8 96.21 L469.32 95.89 L469.85 96.55 L470.38 96.77 L470.9 95.88 L471.43 95.69 L471.95 95.83 L472.48 95.56 L473 95.15 L473.52 95.6 L474.05 95.07 L474.57 95.02 L475.1 94.49 L475.62 94.57 L476.15 94.95 L476.68 94.82 L477.2 94.75 L477.73 94.91 L478.25 94.86 L478.77 94.88 L479.3 94 L479.82 94.07 L480.35 93.94 L480.88 94.13 L481.4 93.96 L481.93 93.4 L482.45 93.24 L482.98 93.48 L483.5 93.35 L484.02 94.21 L484.55 93.2 L485.07 93.67 L485.6 93.59 L486.12 93.03 L486.65 93.6 L487.18 93.59 L487.7 92.65 L488.23 92.47 L488.75 92.9 L489.27 92.51 L489.8 92.21 L490.32 91.94 L490.85 92.72 L491.38 92.46 L491.9 92.15 L492.43 91.69 L492.95 91.86 L493.48 91.71 L494 91.47 L494.52 91.35 L495.05 91.36 L495.57 91.84 L496.1 91.39 L496.62 91.45 L497.15 91.41 L497.68 91.17 L498.2 91.29 L498.73 91 L499.25 90.89 L499.77 90.09 L500.3 90.92 L500.82 90.68 L501.35 90.77 L501.88 90.41 L502.4 90.25 L502.93 90.55 L503.45 89.93 L503.98 90.41 L504.5 90.22" fill="none" stroke="#c2c2c2" stroke-width="1.15" stroke-linejoin="round"/>
<path d="M399.5 104.8 L399.76 102.51 L400.02 103.29 L400.29 105.88 L400.55 103.8 L400.81 104.13 L401.07 103.87 L401.34 104.3 L401.6 104.41 L401.86 103.78 L402.12 103.18 L402.39 103.91 L402.65 104.19 L402.91 103.2 L403.18 103.51 L403.44 102.47 L403.7 104.82 L403.96 103.96 L404.23 102.16 L404.49 103.51 L404.75 104.3 L405.01 103.94 L405.27 104.06 L405.54 103.27 L405.8 103.04 L406.06 104.43 L406.32 102.56 L406.59 103.22 L406.85 104.1 L407.11 103.15 L407.38 104.33 L407.64 102.63 L407.9 104.36 L408.16 103.4 L408.43 104.58 L408.69 103.09 L408.95 104.86 L409.21 103.6 L409.48 103.55 L409.74 104.03 L410 105.24 L410.26 103.99 L410.52 101.24 L410.79 104.03 L411.05 104.16 L411.31 103.19 L411.57 103.06 L411.84 104.21 L412.1 102.69 L412.36 103.66 L412.62 103.07 L412.89 103.38 L413.15 103.64 L413.41 104.64 L413.68 103.92 L413.94 103.74 L414.2 102.25 L414.46 102.19 L414.73 103.45 L414.99 103.3 L415.25 103.54 L415.51 102.63 L415.77 104.45 L416.04 104.02 L416.3 103.54 L416.56 103.56 L416.82 102.48 L417.09 103.16 L417.35 102.24 L417.61 102.7 L417.88 103.92 L418.14 102.88 L418.4 102.66 L418.66 103.46 L418.93 101.85 L419.19 102.27 L419.45 103.32 L419.71 103.51 L419.98 103.34 L420.24 102.33 L420.5 103.53 L420.76 103.15 L421.02 102.65 L421.29 103.46 L421.55 102.51 L421.81 103.58 L422.07 101.63 L422.34 103.01 L422.6 102.87 L422.86 102.29 L423.12 102.33 L423.39 101.55 L423.65 102.74 L423.91 103.5 L424.18 102.02 L424.44 103.3 L424.7 102.27 L424.96 102.55 L425.23 101.51 L425.49 101.82 L425.75 102.79 L426.01 102.56 L426.27 101.92 L426.54 102.58 L426.8 102.04 L427.06 103.54 L427.32 102.11 L427.59 102.06 L427.85 101.71 L428.11 102.01 L428.38 99.1 L428.64 95.02 L428.9 89.75 L429.16 84.48 L429.43 79.21 L429.69 73.95 L429.95 68.68 L430.21 63.41 L430.48 58.15 L430.74 52.88 L431 47.61 L431.26 42.34 L431.52 37.08 L431.79 31.81 L432.05 28.62 L432.31 27.52 L432.57 29.31 L432.84 31.55 L433.1 34.21 L433.36 36.88 L433.62 39.55 L433.89 41.21 L434.15 42.87 L434.41 44.5 L434.68 46.25 L434.94 47.54 L435.2 48.33 L435.46 48.16 L435.73 48.76 L435.99 49.61 L436.25 49.39 L436.51 50.44 L436.77 49.47 L437.04 51.96 L437.3 52.25 L437.56 52.94 L437.82 52.59 L438.09 53.72 L438.35 54.59 L438.61 54.85 L438.88 55.46 L439.14 55.87 L439.4 57.48 L439.66 58.27 L439.93 57.75 L440.19 59.53 L440.45 59.07 L440.71 59.2 L440.98 60.27 L441.24 60.93 L441.5 61.87 L441.76 62.84 L442.02 63.76 L442.29 63.12 L442.55 64.67 L442.81 64.74 L443.07 65.43 L443.34 66.55 L443.6 66.04 L443.86 66.61 L444.12 67.32 L444.39 68.02 L444.65 67.97 L444.91 66.94 L445.18 68.95 L445.44 70.04 L445.7 70 L445.96 68.88 L446.23 69.29 L446.49 68.89 L446.75 71.12 L447.01 71.79 L447.27 72.69 L447.54 72.22 L447.8 72.87 L448.06 73.78 L448.32 73.17 L448.59 73.8 L448.85 74.13 L449.11 74.34 L449.38 74.96 L449.64 76.22 L449.9 74.83 L450.16 76.38 L450.43 77.02 L450.69 75.48 L450.95 75.41 L451.21 76.15 L451.48 75.61 L451.74 75.4 L452 76.69 L452.26 77.55 L452.52 76.62 L452.79 77.44 L453.05 76.41 L453.31 77.24 L453.57 77.95 L453.84 78.18 L454.1 77.47 L454.36 77.46 L454.62 78.57 L454.89 77.24 L455.15 78.53 L455.41 78 L455.68 79.26 L455.94 78.69 L456.2 78.53 L456.46 80.11 L456.73 78.89 L456.99 78.96 L457.25 80.6 L457.51 80.06 L457.77 79.23 L458.04 80.07 L458.3 79.88 L458.56 80.53 L458.82 79.08 L459.09 80.1 L459.35 81.14 L459.61 81.62 L459.88 81.16 L460.14 81.33 L460.4 81.69 L460.66 80.9 L460.93 80.09 L461.19 81.22 L461.45 80.69 L461.71 80.45 L461.98 82.87 L462.24 81.61 L462.5 81.53 L462.76 81.31 L463.02 81.56 L463.29 81.95 L463.55 80.58 L463.81 81.65 L464.07 81.07 L464.34 81.16 L464.6 81.78 L464.86 82.83 L465.12 83.1 L465.39 82.4 L465.65 82.51 L465.91 83.29 L466.18 83.3 L466.44 82.19 L466.7 84.75 L466.96 82.94 L467.23 84.74 L467.49 82.85 L467.75 82.7 L468.01 82.55 L468.27 84.82 L468.54 83.09 L468.8 85.17 L469.06 83.36 L469.32 83.83 L469.59 83.22 L469.85 84.85 L470.11 82.09 L470.38 84.11 L470.64 84.41 L470.9 84.34 L471.16 83.41 L471.43 84.58 L471.69 85.28 L471.95 86.02 L472.21 83.91 L472.48 85.58 L472.74 83.46 L473 83.1 L473.26 82.59 L473.52 83.88 L473.79 85.03 L474.05 84.36 L474.31 83.78 L474.57 83.47 L474.84 83.17 L475.1 82.66 L475.36 83.11 L475.62 82.45 L475.89 82.73 L476.15 84.31 L476.41 82.74 L476.68 82.25 L476.94 82.83 L477.2 82.54 L477.46 81.39 L477.73 83.29 L477.99 82.65 L478.25 80.47 L478.51 81.17 L478.77 82.2 L479.04 82.29 L479.3 81.89 L479.56 81.02 L479.82 82.06 L480.09 80.9 L480.35 80.28 L480.61 80.68 L480.88 79.97 L481.14 81.04 L481.4 80.98 L481.66 79.59 L481.93 80.56 L482.19 80.95 L482.45 79.44 L482.71 79.18 L482.98 79.25 L483.24 78.72 L483.5 80.57 L483.76 79.54 L484.02 78.2 L484.29 79.64 L484.55 78.4 L484.81 80.64 L485.07 78.13 L485.34 78.07 L485.6 78.63 L485.86 79.11 L486.12 79.26 L486.39 76.81 L486.65 77.72 L486.91 77.68 L487.18 77.7 L487.44 76.17 L487.7 77.29 L487.96 76.79 L488.23 77.89 L488.49 76.36 L488.75 75.71 L489.01 75.25 L489.27 75.51 L489.54 75.45 L489.8 76.36 L490.06 77.01 L490.32 74.56 L490.59 74.23 L490.85 76.46 L491.11 74.52 L491.38 75.15 L491.64 75.44 L491.9 75.27 L492.16 73.51 L492.43 74.55 L492.69 74.27 L492.95 75.44 L493.21 71.7 L493.48 72.99 L493.74 73.79 L494 72.91 L494.26 73.73 L494.52 71.99 L494.79 72.39 L495.05 73.38 L495.31 71.93 L495.57 71.74 L495.84 73.29 L496.1 73.07 L496.36 72.01 L496.62 72.12 L496.89 71.85 L497.15 73.17 L497.41 70.52 L497.68 70.69 L497.94 72.31 L498.2 71.16 L498.46 68.58 L498.73 71.25 L498.99 71.32 L499.25 70.73 L499.51 69.77 L499.77 69.78 L500.04 67.81 L500.3 67.49 L500.56 69.77 L500.82 69.48 L501.09 69.85 L501.35 66.55 L501.61 67.46 L501.88 68.2 L502.14 66.56 L502.4 67.38 L502.66 66.3 L502.93 65.9 L503.19 65.98 L503.45 66.57 L503.71 65.32 L503.98 66.57 L504.24 65.46 L504.5 64.48" fill="none" stroke="#111" stroke-width="0.78" stroke-linejoin="round"/>
<line x1="425.7" y1="86.9" x2="425.7" y2="96" stroke="#0a0a0a" stroke-width="1.5"/>
<path d="M422.8 94 L428.6 94 L425.7 99 Z" fill="#0a0a0a"/>
<rect x="26.5" y="156.5" width="131.8" height="101.8" fill="none" stroke="#4a4a4a" stroke-width="0.9"/>
<line x1="24" y1="258.3" x2="26.5" y2="258.3" stroke="#4a4a4a" stroke-width="0.8"/>
<text x="21.6" y="261.1" font-size="8" text-anchor="end" fill="#111" stroke="#111" stroke-width="0.2">0</text>
<line x1="24" y1="232.85" x2="26.5" y2="232.85" stroke="#4a4a4a" stroke-width="0.8"/>
<text x="21.6" y="235.65" font-size="8" text-anchor="end" fill="#111" stroke="#111" stroke-width="0.2">20</text>
<line x1="24" y1="207.4" x2="26.5" y2="207.4" stroke="#4a4a4a" stroke-width="0.8"/>
<text x="21.6" y="210.2" font-size="8" text-anchor="end" fill="#111" stroke="#111" stroke-width="0.2">40</text>
<line x1="24" y1="181.95" x2="26.5" y2="181.95" stroke="#4a4a4a" stroke-width="0.8"/>
<text x="21.6" y="184.75" font-size="8" text-anchor="end" fill="#111" stroke="#111" stroke-width="0.2">60</text>
<line x1="24" y1="156.5" x2="26.5" y2="156.5" stroke="#4a4a4a" stroke-width="0.8"/>
<text x="21.6" y="159.3" font-size="8" text-anchor="end" fill="#111" stroke="#111" stroke-width="0.2">80</text>
<text x="8.6" y="208.3" font-size="10.1" font-weight="bold" text-anchor="middle" fill="#000" transform="rotate(-90 8.6 208.3)" stroke="#000" stroke-width="0.25">% Adhesion</text>
<text x="90" y="279.6" font-size="10" font-weight="bold" text-anchor="middle" fill="#000" stroke="#000" stroke-width="0.25">IgE (µg/mL)</text>
<text x="35" y="267.4" font-size="7.9" text-anchor="middle" fill="#111" stroke="#111" stroke-width="0.2">0.5</text>
<rect x="29.1" y="237.94" width="5" height="20.36" fill="#fff" stroke="#666" stroke-width="0.9"/>
<line x1="28.8" y1="237.94" x2="34.4" y2="237.94" stroke="#1c1c1c" stroke-width="1"/>
<line x1="30.1" y1="237.24" x2="33.1" y2="237.24" stroke="#111" stroke-width="1"/>
<rect x="36.6" y="256.65" width="5.2" height="1.65" fill="#050505"/>
<line x1="37.6" y1="256.15" x2="40.8" y2="256.15" stroke="#111" stroke-width="0.9"/>
<text x="57.5" y="267.4" font-size="7.9" text-anchor="middle" fill="#111" stroke="#111" stroke-width="0.2">1</text>
<rect x="51.6" y="228.01" width="5" height="30.29" fill="#fff" stroke="#666" stroke-width="0.9"/>
<line x1="51.3" y1="228.01" x2="56.9" y2="228.01" stroke="#1c1c1c" stroke-width="1"/>
<line x1="52.6" y1="227.31" x2="55.6" y2="227.31" stroke="#111" stroke-width="1"/>
<rect x="59.1" y="253.97" width="5.2" height="4.33" fill="#050505"/>
<line x1="61.7" y1="253.97" x2="61.7" y2="252.96" stroke="#111" stroke-width="0.9"/>
<line x1="60.3" y1="252.96" x2="63.1" y2="252.96" stroke="#111" stroke-width="1"/>
<text x="80" y="267.4" font-size="7.9" text-anchor="middle" fill="#111" stroke="#111" stroke-width="0.2">2</text>
<rect x="74.1" y="220.38" width="5" height="37.92" fill="#fff" stroke="#666" stroke-width="0.9"/>
<line x1="73.8" y1="220.38" x2="79.4" y2="220.38" stroke="#1c1c1c" stroke-width="1"/>
<line x1="76.6" y1="220.38" x2="76.6" y2="218.47" stroke="#111" stroke-width="0.9"/>
<line x1="75.2" y1="218.47" x2="78" y2="218.47" stroke="#111" stroke-width="1"/>
<rect x="81.6" y="252.96" width="5.2" height="5.34" fill="#050505"/>
<line x1="84.2" y1="252.96" x2="84.2" y2="251.43" stroke="#111" stroke-width="0.9"/>
<line x1="82.8" y1="251.43" x2="85.6" y2="251.43" stroke="#111" stroke-width="1"/>
<text x="102.5" y="267.4" font-size="7.9" text-anchor="middle" fill="#111" stroke="#111" stroke-width="0.2">5</text>
<rect x="96.6" y="214.78" width="5" height="43.52" fill="#fff" stroke="#666" stroke-width="0.9"/>
<line x1="96.3" y1="214.78" x2="101.9" y2="214.78" stroke="#1c1c1c" stroke-width="1"/>
<line x1="99.1" y1="214.78" x2="99.1" y2="211.85" stroke="#111" stroke-width="0.9"/>
<line x1="97.7" y1="211.85" x2="100.5" y2="211.85" stroke="#111" stroke-width="1"/>
<rect x="104.1" y="248.37" width="5.2" height="9.93" fill="#050505"/>
<line x1="106.7" y1="248.37" x2="106.7" y2="245.32" stroke="#111" stroke-width="0.9"/>
<line x1="105.3" y1="245.32" x2="108.1" y2="245.32" stroke="#111" stroke-width="1"/>
<text x="125" y="267.4" font-size="7.9" text-anchor="middle" fill="#111" stroke="#111" stroke-width="0.2">10</text>
<rect x="119.1" y="214.14" width="5" height="44.16" fill="#fff" stroke="#666" stroke-width="0.9"/>
<line x1="118.8" y1="214.14" x2="124.4" y2="214.14" stroke="#1c1c1c" stroke-width="1"/>
<line x1="120.1" y1="213.44" x2="123.1" y2="213.44" stroke="#111" stroke-width="1"/>
<rect x="126.6" y="242.65" width="5.2" height="15.65" fill="#050505"/>
<line x1="129.2" y1="242.65" x2="129.2" y2="240.23" stroke="#111" stroke-width="0.9"/>
<line x1="127.8" y1="240.23" x2="130.6" y2="240.23" stroke="#111" stroke-width="1"/>
<text x="147.5" y="267.4" font-size="7.9" text-anchor="middle" fill="#111" stroke="#111" stroke-width="0.2">20</text>
<rect x="141.6" y="213.25" width="5" height="45.05" fill="#fff" stroke="#666" stroke-width="0.9"/>
<line x1="141.3" y1="213.25" x2="146.9" y2="213.25" stroke="#1c1c1c" stroke-width="1"/>
<line x1="144.1" y1="213.25" x2="144.1" y2="211.73" stroke="#111" stroke-width="0.9"/>
<line x1="142.7" y1="211.73" x2="145.5" y2="211.73" stroke="#111" stroke-width="1"/>
<rect x="149.1" y="238.96" width="5.2" height="19.34" fill="#050505"/>
<line x1="150.1" y1="238.46" x2="153.3" y2="238.46" stroke="#111" stroke-width="0.9"/>
<rect x="207.3" y="156.5" width="130.9" height="101.8" fill="none" stroke="#4a4a4a" stroke-width="0.9"/>
<line x1="204.8" y1="258.3" x2="207.3" y2="258.3" stroke="#4a4a4a" stroke-width="0.8"/>
<text x="202.4" y="261.1" font-size="8" text-anchor="end" fill="#111" stroke="#111" stroke-width="0.2">0</text>
<line x1="204.8" y1="232.85" x2="207.3" y2="232.85" stroke="#4a4a4a" stroke-width="0.8"/>
<text x="202.4" y="235.65" font-size="8" text-anchor="end" fill="#111" stroke="#111" stroke-width="0.2">20</text>
<line x1="204.8" y1="207.4" x2="207.3" y2="207.4" stroke="#4a4a4a" stroke-width="0.8"/>
<text x="202.4" y="210.2" font-size="8" text-anchor="end" fill="#111" stroke="#111" stroke-width="0.2">40</text>
<line x1="204.8" y1="181.95" x2="207.3" y2="181.95" stroke="#4a4a4a" stroke-width="0.8"/>
<text x="202.4" y="184.75" font-size="8" text-anchor="end" fill="#111" stroke="#111" stroke-width="0.2">60</text>
<line x1="204.8" y1="156.5" x2="207.3" y2="156.5" stroke="#4a4a4a" stroke-width="0.8"/>
<text x="202.4" y="159.3" font-size="8" text-anchor="end" fill="#111" stroke="#111" stroke-width="0.2">80</text>
<text x="189" y="208.3" font-size="10.1" font-weight="bold" text-anchor="middle" fill="#000" transform="rotate(-90 189 208.3)" stroke="#000" stroke-width="0.25">% Adhesion</text>
<text x="271.4" y="279.6" font-size="10" font-weight="bold" text-anchor="middle" fill="#000" stroke="#000" stroke-width="0.25">SF (ng/mL)</text>
<text x="216" y="267.4" font-size="7.9" text-anchor="middle" fill="#111" stroke="#111" stroke-width="0.2">0.5</text>
<rect x="209.6" y="256.52" width="5" height="1.78" fill="#fff" stroke="#666" stroke-width="0.9"/>
<line x1="209.3" y1="256.52" x2="214.9" y2="256.52" stroke="#1c1c1c" stroke-width="1"/>
<line x1="210.6" y1="255.82" x2="213.6" y2="255.82" stroke="#111" stroke-width="1"/>
<rect x="217.2" y="249.01" width="5.3" height="9.29" fill="#050505"/>
<line x1="219.85" y1="249.01" x2="219.85" y2="246.21" stroke="#111" stroke-width="0.9"/>
<line x1="218.45" y1="246.21" x2="221.25" y2="246.21" stroke="#111" stroke-width="1"/>
<text x="238.45" y="267.4" font-size="7.9" text-anchor="middle" fill="#111" stroke="#111" stroke-width="0.2">1</text>
<rect x="232.05" y="254.36" width="5" height="3.94" fill="#fff" stroke="#666" stroke-width="0.9"/>
<line x1="231.75" y1="254.36" x2="237.35" y2="254.36" stroke="#1c1c1c" stroke-width="1"/>
<line x1="234.55" y1="254.36" x2="234.55" y2="252.19" stroke="#111" stroke-width="0.9"/>
<line x1="233.15" y1="252.19" x2="235.95" y2="252.19" stroke="#111" stroke-width="1"/>
<rect x="239.65" y="248.5" width="5.3" height="9.8" fill="#050505"/>
<line x1="240.65" y1="248" x2="243.95" y2="248" stroke="#111" stroke-width="0.9"/>
<text x="260.9" y="267.4" font-size="7.9" text-anchor="middle" fill="#111" stroke="#111" stroke-width="0.2">2</text>
<rect x="254.5" y="247.74" width="5" height="10.56" fill="#fff" stroke="#666" stroke-width="0.9"/>
<line x1="254.2" y1="247.74" x2="259.8" y2="247.74" stroke="#1c1c1c" stroke-width="1"/>
<line x1="257" y1="247.74" x2="257" y2="247.1" stroke="#111" stroke-width="0.9"/>
<line x1="255.6" y1="247.1" x2="258.4" y2="247.1" stroke="#111" stroke-width="1"/>
<rect x="262.1" y="235.01" width="5.3" height="23.29" fill="#050505"/>
<line x1="264.75" y1="235.01" x2="264.75" y2="233.23" stroke="#111" stroke-width="0.9"/>
<line x1="263.35" y1="233.23" x2="266.15" y2="233.23" stroke="#111" stroke-width="1"/>
<text x="283.35" y="267.4" font-size="7.9" text-anchor="middle" fill="#111" stroke="#111" stroke-width="0.2">5</text>
<rect x="276.95" y="238.96" width="5" height="19.34" fill="#fff" stroke="#666" stroke-width="0.9"/>
<line x1="276.65" y1="238.96" x2="282.25" y2="238.96" stroke="#1c1c1c" stroke-width="1"/>
<line x1="279.45" y1="238.96" x2="279.45" y2="238.32" stroke="#111" stroke-width="0.9"/>
<line x1="278.05" y1="238.32" x2="280.85" y2="238.32" stroke="#111" stroke-width="1"/>
<rect x="284.55" y="228.14" width="5.3" height="30.16" fill="#050505"/>
<line x1="287.2" y1="228.14" x2="287.2" y2="225.22" stroke="#111" stroke-width="0.9"/>
<line x1="285.8" y1="225.22" x2="288.6" y2="225.22" stroke="#111" stroke-width="1"/>
<text x="305.8" y="267.4" font-size="7.9" text-anchor="middle" fill="#111" stroke="#111" stroke-width="0.2">10</text>
<rect x="299.4" y="227.51" width="5" height="30.79" fill="#fff" stroke="#666" stroke-width="0.9"/>
<line x1="299.1" y1="227.51" x2="304.7" y2="227.51" stroke="#1c1c1c" stroke-width="1"/>
<line x1="301.9" y1="227.51" x2="301.9" y2="227" stroke="#111" stroke-width="0.9"/>
<line x1="300.5" y1="227" x2="303.3" y2="227" stroke="#111" stroke-width="1"/>
<rect x="307" y="214.4" width="5.3" height="43.9" fill="#050505"/>
<line x1="309.65" y1="214.4" x2="309.65" y2="212.11" stroke="#111" stroke-width="0.9"/>
<line x1="308.25" y1="212.11" x2="311.05" y2="212.11" stroke="#111" stroke-width="1"/>
<text x="328.25" y="267.4" font-size="7.9" text-anchor="middle" fill="#111" stroke="#111" stroke-width="0.2">20</text>
<rect x="321.85" y="221.91" width="5" height="36.39" fill="#fff" stroke="#666" stroke-width="0.9"/>
<line x1="321.55" y1="221.91" x2="327.15" y2="221.91" stroke="#1c1c1c" stroke-width="1"/>
<line x1="322.85" y1="221.21" x2="325.85" y2="221.21" stroke="#111" stroke-width="1"/>
<rect x="329.45" y="209.18" width="5.3" height="49.12" fill="#050505"/>
<line x1="330.45" y1="208.68" x2="333.75" y2="208.68" stroke="#111" stroke-width="0.9"/>
<rect x="386.5" y="156.4" width="129.5" height="101.9" fill="none" stroke="#4a4a4a" stroke-width="0.9"/>
<line x1="384" y1="258.3" x2="386.5" y2="258.3" stroke="#4a4a4a" stroke-width="0.8"/>
<text x="381.6" y="261.1" font-size="8" text-anchor="end" fill="#111" stroke="#111" stroke-width="0.2">0</text>
<line x1="384" y1="232.83" x2="386.5" y2="232.83" stroke="#4a4a4a" stroke-width="0.8"/>
<text x="381.6" y="235.63" font-size="8" text-anchor="end" fill="#111" stroke="#111" stroke-width="0.2">20</text>
<line x1="384" y1="207.35" x2="386.5" y2="207.35" stroke="#4a4a4a" stroke-width="0.8"/>
<text x="381.6" y="210.15" font-size="8" text-anchor="end" fill="#111" stroke="#111" stroke-width="0.2">40</text>
<line x1="384" y1="181.88" x2="386.5" y2="181.88" stroke="#4a4a4a" stroke-width="0.8"/>
<text x="381.6" y="184.68" font-size="8" text-anchor="end" fill="#111" stroke="#111" stroke-width="0.2">60</text>
<line x1="384" y1="156.4" x2="386.5" y2="156.4" stroke="#4a4a4a" stroke-width="0.8"/>
<text x="381.6" y="159.2" font-size="8" text-anchor="end" fill="#111" stroke="#111" stroke-width="0.2">80</text>
<text x="368.6" y="208.3" font-size="10.1" font-weight="bold" text-anchor="middle" fill="#000" transform="rotate(-90 368.6 208.3)" stroke="#000" stroke-width="0.25">% Adhesion</text>
<text x="447.9" y="279.6" font-size="10" font-weight="bold" text-anchor="middle" fill="#000" stroke="#000" stroke-width="0.25">DNP-HSA (ng/mL)</text>
<text x="395.05" y="267.4" font-size="7.9" text-anchor="middle" fill="#111" stroke="#111" stroke-width="0.2">0.1</text>
<rect x="388.8" y="253.97" width="5" height="4.33" fill="#fff" stroke="#666" stroke-width="0.9"/>
<line x1="388.5" y1="253.97" x2="394.1" y2="253.97" stroke="#1c1c1c" stroke-width="1"/>
<line x1="391.3" y1="253.97" x2="391.3" y2="252.95" stroke="#111" stroke-width="0.9"/>
<line x1="389.9" y1="252.95" x2="392.7" y2="252.95" stroke="#111" stroke-width="1"/>
<rect x="396.4" y="257.15" width="5" height="1.15" fill="#050505"/>
<line x1="397.4" y1="256.65" x2="400.4" y2="256.65" stroke="#111" stroke-width="0.9"/>
<text x="417.4" y="267.4" font-size="7.9" text-anchor="middle" fill="#111" stroke="#111" stroke-width="0.2">0.5</text>
<rect x="411.15" y="248.49" width="5" height="9.81" fill="#fff" stroke="#666" stroke-width="0.9"/>
<line x1="410.85" y1="248.49" x2="416.45" y2="248.49" stroke="#1c1c1c" stroke-width="1"/>
<line x1="412.15" y1="247.79" x2="415.15" y2="247.79" stroke="#111" stroke-width="1"/>
<rect x="418.75" y="257.03" width="5" height="1.27" fill="#050505"/>
<line x1="421.25" y1="257.03" x2="421.25" y2="255.5" stroke="#111" stroke-width="0.9"/>
<line x1="419.85" y1="255.5" x2="422.65" y2="255.5" stroke="#111" stroke-width="1"/>
<text x="439.75" y="267.4" font-size="7.9" text-anchor="middle" fill="#111" stroke="#111" stroke-width="0.2">1</text>
<rect x="433.5" y="239.96" width="5" height="18.34" fill="#fff" stroke="#666" stroke-width="0.9"/>
<line x1="433.2" y1="239.96" x2="438.8" y2="239.96" stroke="#1c1c1c" stroke-width="1"/>
<line x1="436" y1="239.96" x2="436" y2="239.45" stroke="#111" stroke-width="0.9"/>
<line x1="434.6" y1="239.45" x2="437.4" y2="239.45" stroke="#111" stroke-width="1"/>
<rect x="441.1" y="255.24" width="5" height="3.06" fill="#050505"/>
<line x1="443.6" y1="255.24" x2="443.6" y2="254.86" stroke="#111" stroke-width="0.9"/>
<line x1="442.2" y1="254.86" x2="445" y2="254.86" stroke="#111" stroke-width="1"/>
<text x="462.1" y="267.4" font-size="7.9" text-anchor="middle" fill="#111" stroke="#111" stroke-width="0.2">10</text>
<rect x="455.85" y="185.57" width="5" height="72.73" fill="#fff" stroke="#666" stroke-width="0.9"/>
<line x1="455.55" y1="185.57" x2="461.15" y2="185.57" stroke="#1c1c1c" stroke-width="1"/>
<line x1="458.35" y1="185.57" x2="458.35" y2="183.02" stroke="#111" stroke-width="0.9"/>
<line x1="456.95" y1="183.02" x2="459.75" y2="183.02" stroke="#111" stroke-width="1"/>
<rect x="463.45" y="239.45" width="5" height="18.85" fill="#050505"/>
<line x1="464.45" y1="238.95" x2="467.45" y2="238.95" stroke="#111" stroke-width="0.9"/>
<text x="484.45" y="267.4" font-size="7.9" text-anchor="middle" fill="#111" stroke="#111" stroke-width="0.2">20</text>
<rect x="478.2" y="177.42" width="5" height="80.88" fill="#fff" stroke="#666" stroke-width="0.9"/>
<line x1="477.9" y1="177.42" x2="483.5" y2="177.42" stroke="#1c1c1c" stroke-width="1"/>
<line x1="479.2" y1="176.72" x2="482.2" y2="176.72" stroke="#111" stroke-width="1"/>
<rect x="485.8" y="231.42" width="5" height="26.88" fill="#050505"/>
<line x1="486.8" y1="230.92" x2="489.8" y2="230.92" stroke="#111" stroke-width="0.9"/>
<text x="506.8" y="267.4" font-size="7.9" text-anchor="middle" fill="#111" stroke="#111" stroke-width="0.2">50</text>
<rect x="500.55" y="176.78" width="5" height="81.52" fill="#fff" stroke="#666" stroke-width="0.9"/>
<line x1="500.25" y1="176.78" x2="505.85" y2="176.78" stroke="#1c1c1c" stroke-width="1"/>
<line x1="503.05" y1="176.78" x2="503.05" y2="171.3" stroke="#111" stroke-width="0.9"/>
<line x1="501.65" y1="171.3" x2="504.45" y2="171.3" stroke="#111" stroke-width="1"/>
<rect x="508.15" y="218.43" width="5" height="39.87" fill="#050505"/>
<line x1="510.65" y1="218.43" x2="510.65" y2="216.27" stroke="#111" stroke-width="0.9"/>
<line x1="509.25" y1="216.27" x2="512.05" y2="216.27" stroke="#111" stroke-width="1"/>
</svg>
</body></html>
